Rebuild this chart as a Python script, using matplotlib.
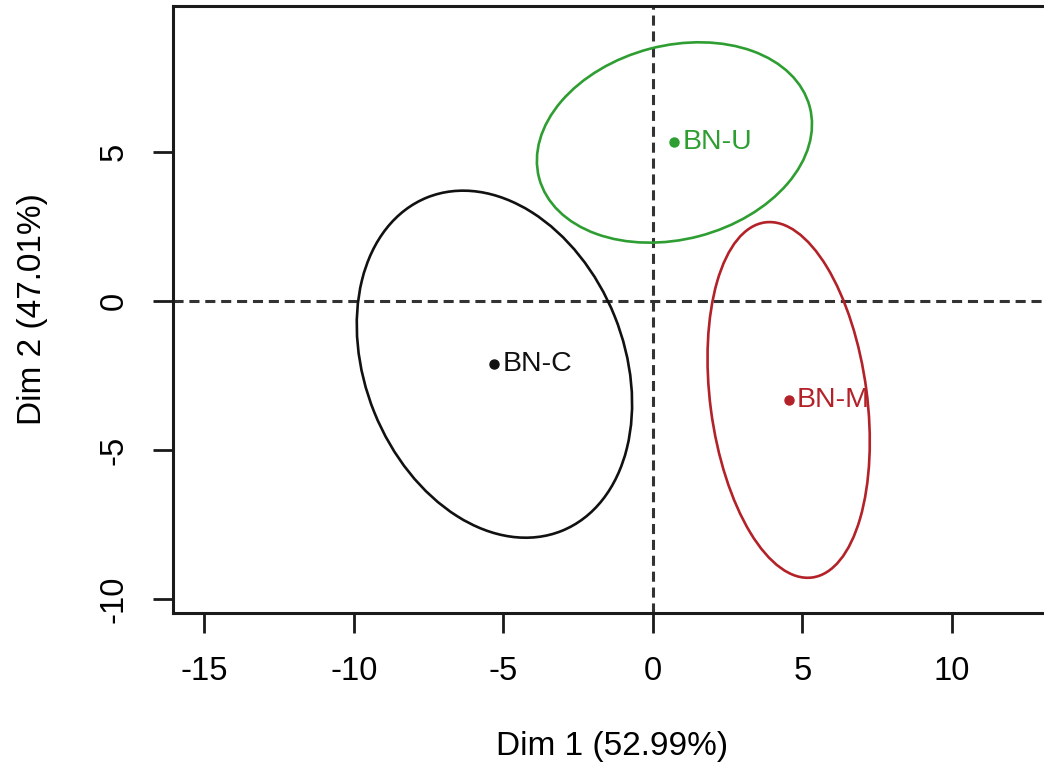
import matplotlib
matplotlib.use("Agg")
import matplotlib.pyplot as plt
from matplotlib.patches import Ellipse

plt.rcParams["font.family"] = ["Liberation Sans", "DejaVu Sans"]
plt.rcParams["axes.unicode_minus"] = False

# -------------------------------------------------------------
# Data
# -------------------------------------------------------------
groups = ["BN-C", "BN-U", "BN-M"]
colors = ["#111111", "#2e9e32", "#b22228"]
dim1 = [-5.30, 0.72, 4.54]
dim2 = [-2.12, 5.32, -3.32]

# confidence ellipses: full major / minor axis, angle of major axis (deg)
ell_major = [12.06, 9.36, 12.02]
ell_minor = [8.66, 6.50, 5.24]
ell_angle = [-68.1, 14.8, -82.5]

xticks = [-15, -10, -5, 0, 5, 10]
yticks = [-10, -5, 0, 5]
xlabel = "Dim 1 (52.99%)"
ylabel = "Dim 2 (47.01%)"

# -------------------------------------------------------------
# Figure
# -------------------------------------------------------------
fig = plt.figure(figsize=(10.44, 7.81), dpi=100)
ax = fig.add_axes([0.16571, 0.21511, 0.8406, 0.77721])
ax.set_xlim(-16.05, 13.3)
ax.set_ylim(-10.47, 9.9)

# reference lines
dash = (0, (3.3, 1.9))
ax.axhline(0, color="#333333", linewidth=2.2, linestyle=dash, zorder=1)
ax.axvline(0, color="#333333", linewidth=2.2, linestyle=dash, zorder=1)

for g, c, x, y, w, h, a in zip(groups, colors, dim1, dim2,
                               ell_major, ell_minor, ell_angle):
    ax.add_patch(Ellipse((x, y), w, h, angle=a, fill=False,
                         edgecolor=c, linewidth=1.9, zorder=2))
    ax.plot([x], [y], "o", color=c, markersize=6.5, zorder=3)
    ax.annotate(g, (x, y), xytext=(6, 0), textcoords="offset points",
                ha="left", va="center", color=c, fontsize=20.5, zorder=3)

# axes styling, R base-graphics look
for s in ax.spines.values():
    s.set_linewidth(2.2)
    s.set_color("#1a1a1a")

ax.set_xticks(xticks)
ax.set_yticks(yticks)
ax.tick_params(axis="both", direction="out", length=14.5, width=2.0,
               color="#1a1a1a", labelsize=23.5, pad=16.5)
for lab in ax.get_yticklabels():
    lab.set_rotation(90)
    lab.set_va("center")

ax.set_xlabel(xlabel, fontsize=24, labelpad=31.5)
ax.set_ylabel(ylabel, fontsize=24, labelpad=37)

fig.savefig("out.png", dpi=100)
